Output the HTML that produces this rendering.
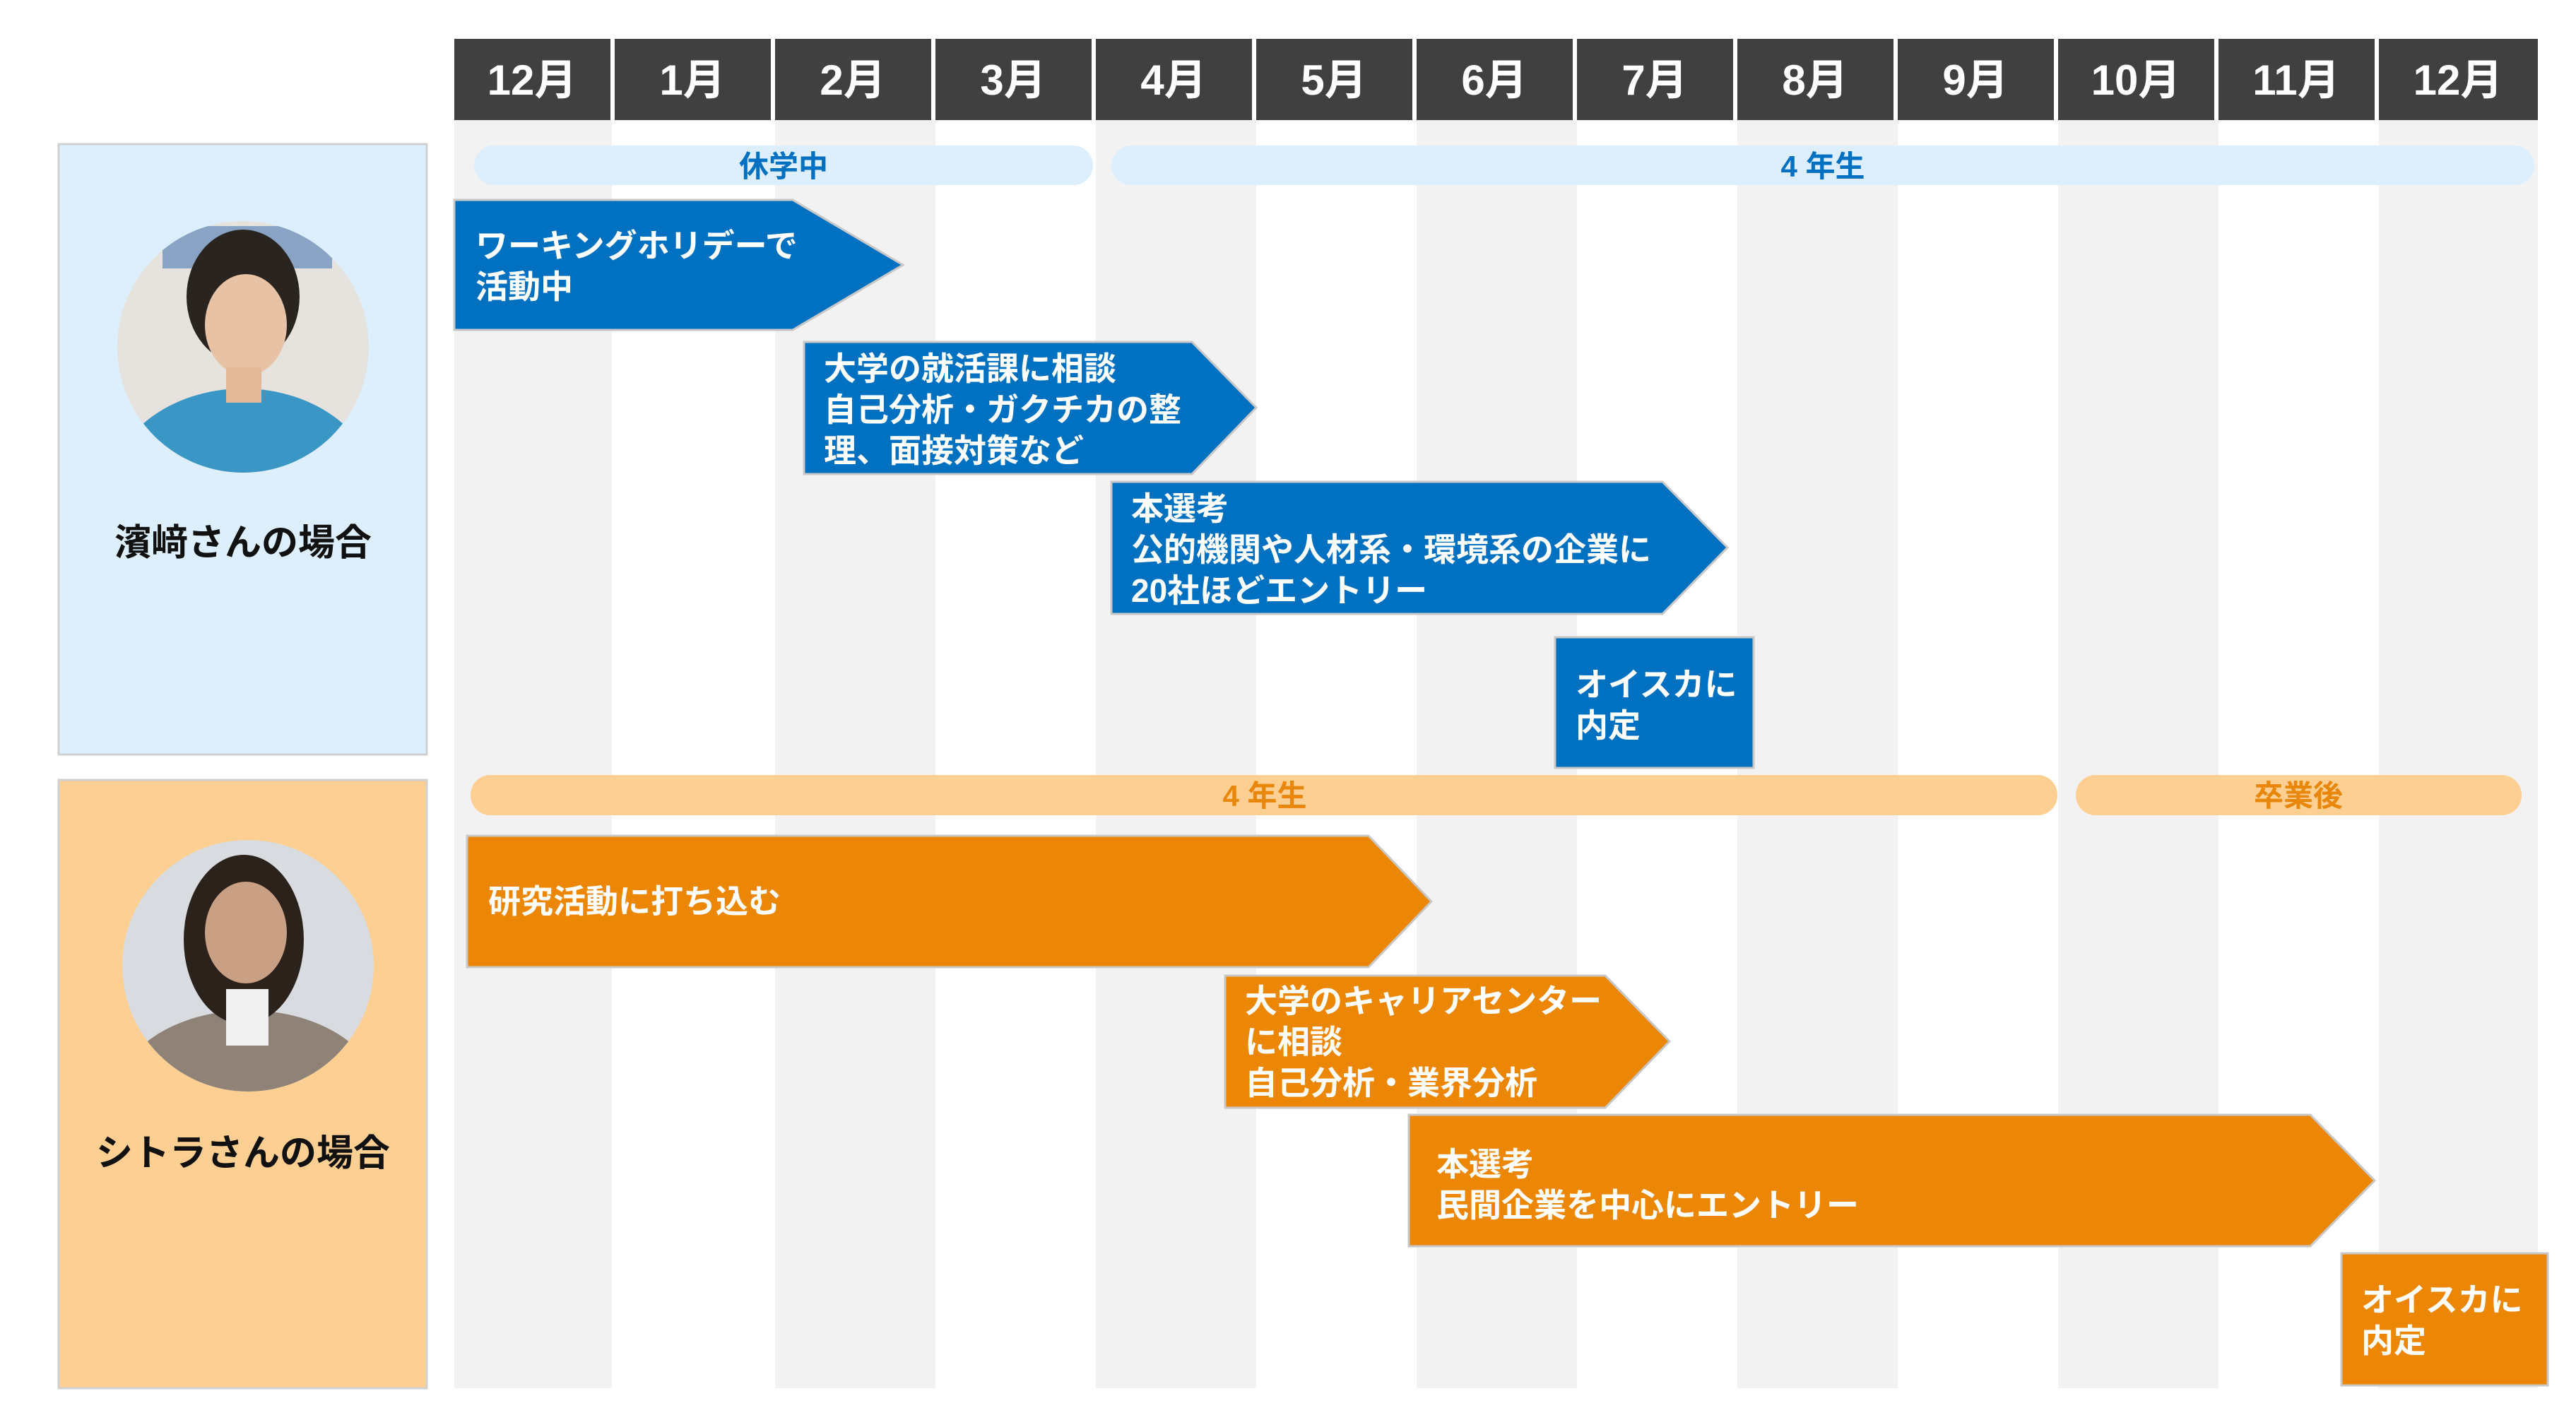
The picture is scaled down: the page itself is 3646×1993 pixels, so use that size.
<!DOCTYPE html>
<html><head><meta charset="utf-8"><style>
html,body{margin:0;padding:0;background:#fff;}
svg{display:block;}
text{font-family:"Liberation Sans","Noto Sans CJK JP",sans-serif;font-weight:bold;}
</style></head><body>
<svg width="3646" height="1993" viewBox="0 0 3646 1993" xmlns="http://www.w3.org/2000/svg">
<!-- column stripes -->
<g fill="#f2f2f2">
<rect x="643" y="170" width="223" height="1795"/>
<rect x="1097" y="170" width="227" height="1795"/>
<rect x="1551" y="170" width="227" height="1795"/>
<rect x="2005" y="170" width="227" height="1795"/>
<rect x="2459" y="170" width="227" height="1795"/>
<rect x="2913" y="170" width="227" height="1795"/>
<rect x="3367" y="170" width="225" height="1795"/>
</g>
<!-- header -->
<g fill="#404040">
<rect x="643" y="55" width="221" height="115"/>
<rect x="870" y="55" width="221" height="115"/>
<rect x="1097" y="55" width="221" height="115"/>
<rect x="1324" y="55" width="221" height="115"/>
<rect x="1551" y="55" width="221" height="115"/>
<rect x="1778" y="55" width="221" height="115"/>
<rect x="2005" y="55" width="221" height="115"/>
<rect x="2232" y="55" width="221" height="115"/>
<rect x="2459" y="55" width="221" height="115"/>
<rect x="2686" y="55" width="221" height="115"/>
<rect x="2913" y="55" width="221" height="115"/>
<rect x="3140" y="55" width="221" height="115"/>
<rect x="3367" y="55" width="225" height="115"/>
</g>
<g fill="#fff" font-size="60" text-anchor="middle">
<text x="753" y="134">12月</text><text x="980" y="134">1月</text><text x="1207" y="134">2月</text>
<text x="1434" y="134">3月</text><text x="1661" y="134">4月</text><text x="1888" y="134">5月</text>
<text x="2115" y="134">6月</text><text x="2342" y="134">7月</text><text x="2569" y="134">8月</text>
<text x="2796" y="134">9月</text><text x="3023" y="134">10月</text><text x="3250" y="134">11月</text>
<text x="3479" y="134">12月</text>
</g>
<!-- left boxes -->
<rect x="83" y="204" width="521" height="864" fill="#ddeefc" stroke="#d0d0d0" stroke-width="3"/>
<rect x="83" y="1104" width="521" height="861" fill="#fdcf92" stroke="#d0d0d0" stroke-width="3"/>
<text x="344" y="786" font-size="52" text-anchor="middle" fill="#111">濱﨑さんの場合</text>
<text x="344" y="1650" font-size="52" text-anchor="middle" fill="#111">シトラさんの場合</text>
<!-- photo 1 -->
<defs>
<clipPath id="c1"><circle cx="344" cy="491" r="178"/></clipPath>
<clipPath id="c2"><circle cx="351" cy="1367" r="178"/></clipPath>
</defs>
<g clip-path="url(#c1)">
<rect x="160" y="310" width="380" height="370" fill="#e6e3de"/>
<rect x="230" y="320" width="240" height="60" fill="#4a78b0" opacity="0.6"/>
<ellipse cx="344" cy="700" rx="190" ry="150" fill="#3a96c4"/>
<ellipse cx="344" cy="420" rx="80" ry="95" fill="#2a2420"/>
<ellipse cx="348" cy="460" rx="58" ry="72" fill="#e8c2a4"/>
<rect x="320" y="520" width="50" height="50" fill="#e2b898"/>
</g>
<g clip-path="url(#c2)">
<rect x="170" y="1185" width="370" height="370" fill="#d8dce0"/>
<ellipse cx="351" cy="1560" rx="190" ry="130" fill="#8f8378"/>
<ellipse cx="345" cy="1330" rx="85" ry="120" fill="#2c221c"/>
<ellipse cx="348" cy="1320" rx="58" ry="72" fill="#caa084"/>
<rect x="320" y="1400" width="60" height="80" fill="#f1f1f1"/>
</g>
<!-- pills -->
<rect x="671" y="206" width="876" height="56" rx="28" fill="#ddeefc"/>
<rect x="1573" y="206" width="2014" height="56" rx="28" fill="#ddeefc"/>
<text x="1109" y="250" font-size="42" text-anchor="middle" fill="#0070c0">休学中</text>
<text x="2580" y="250" font-size="42" text-anchor="middle" fill="#0070c0">4 年生</text>
<rect x="666" y="1097" width="2246" height="57" rx="28" fill="#fdcf92"/>
<rect x="2938" y="1097" width="631" height="57" rx="28" fill="#fdcf92"/>
<text x="1790" y="1141" font-size="42" text-anchor="middle" fill="#e8870b">4 年生</text>
<text x="3253" y="1141" font-size="42" text-anchor="middle" fill="#e8870b">卒業後</text>
<!-- blue arrows -->
<g stroke="#c8c8c8" stroke-width="3">
<polygon points="643,283 1122,283 1278,375 1122,467 643,467" fill="#0070c0"/>
<polygon points="1138,484 1687,484 1778,577 1687,671 1138,671" fill="#0070c0"/>
<polygon points="1573,682 2353,682 2445,775 2353,869 1573,869" fill="#0070c0"/>
<rect x="2201" y="902" width="281" height="185" fill="#0070c0"/>
<polygon points="661,1183 1937,1183 2026,1276 1937,1369 661,1369" fill="#ec8705"/>
<polygon points="1734,1381 2272,1381 2363,1474 2272,1568 1734,1568" fill="#ec8705"/>
<polygon points="1994,1578 3270,1578 3361,1671 3270,1764 1994,1764" fill="#ec8705"/>
<rect x="3314" y="1774" width="292" height="187" fill="#ec8705"/>
</g>
<g fill="#fff" font-size="46">
<text x="673" y="364">ワーキングホリデーで</text>
<text x="673" y="422">活動中</text>
<text x="1166" y="538">大学の就活課に相談</text>
<text x="1166" y="596">自己分析・ガクチカの整</text>
<text x="1166" y="654">理、面接対策など</text>
<text x="1601" y="736">本選考</text>
<text x="1601" y="794">公的機関や人材系・環境系の企業に</text>
<text x="1601" y="852">20社ほどエントリー</text>
<text x="2230" y="985">オイスカに</text>
<text x="2230" y="1043">内定</text>
<text x="691" y="1292">研究活動に打ち込む</text>
<text x="1762" y="1433">大学のキャリアセンター</text>
<text x="1762" y="1491">に相談</text>
<text x="1762" y="1549">自己分析・業界分析</text>
<text x="2033" y="1664">本選考</text>
<text x="2033" y="1722">民間企業を中心にエントリー</text>
<text x="3342" y="1856">オイスカに</text>
<text x="3342" y="1914">内定</text>
</g>
</svg>
</body></html>
